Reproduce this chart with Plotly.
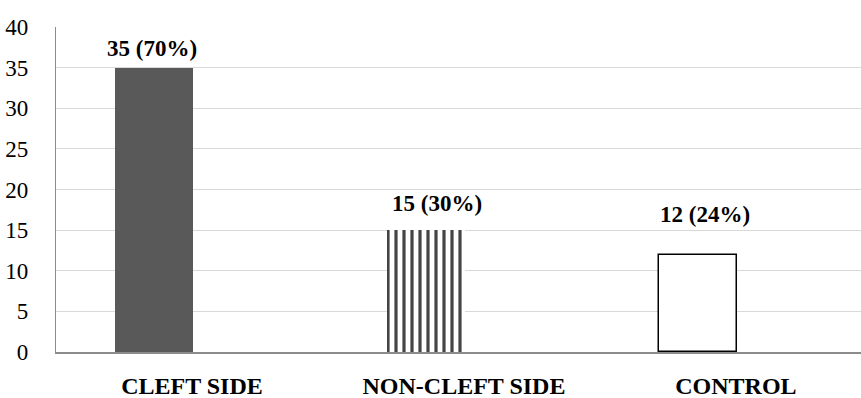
import plotly.graph_objects as go

categories = ["CLEFT SIDE", "NON-CLEFT SIDE", "CONTROL"]
counts = [35, 15, 12]
percents = [70, 30, 24]
y_ticks = [0, 5, 10, 15, 20, 25, 30, 35, 40]

# styling (not data)
fill_colors = ["#595959", "white", "white"]
patterns = ["", "|", ""]
line_widths = [0, 0, 1.5]
label_lift = [2.4, 3.3, 4.9]
label_xshift = [-2, 11, 7]

xs = list(range(len(categories)))
labels = [f"{c} ({p}%)" for c, p in zip(counts, percents)]

fig = go.Figure()
fig.add_trace(go.Bar(
    x=xs, y=counts,
    width=0.287, offset=-0.283,
    marker=dict(
        color=fill_colors,
        line=dict(color="black", width=line_widths),
        pattern=dict(shape=patterns, fgcolor="black", bgcolor="white", fgopacity=1,
                     size=8, solidity=0.4, fillmode="overlay"),
    ),
    showlegend=False,
    hoverinfo="skip",
))

for i, (c, lab) in enumerate(zip(counts, labels)):
    fig.add_annotation(
        x=xs[i] - 0.283 + 0.287 / 2, y=c + label_lift[i], text=f"<b>{lab}</b>",
        showarrow=False, xanchor="center", yanchor="middle", xshift=label_xshift[i],
        font=dict(family="Liberation Serif", size=23, color="black"),
    )

fig.update_layout(
    width=861, height=398,
    margin=dict(l=56, r=0, t=27, b=46, autoexpand=False),
    paper_bgcolor="white", plot_bgcolor="white",
    bargap=0,
    font=dict(family="Liberation Serif", color="black"),
)
fig.update_xaxes(
    range=[-0.5, 2.46], automargin=False,
    tickmode="array", tickvals=xs,
    ticktext=[f"<b>{c}</b>" for c in categories],
    tickfont=dict(family="Liberation Serif", size=24, color="black"),
    showgrid=False, zeroline=False,
    showline=True, linecolor="#8c8c8c", linewidth=1.5,
    ticks="", ticklabelstandoff=11,
)
fig.update_yaxes(
    range=[0, 40], automargin=False,
    tickmode="array", tickvals=y_ticks,
    tickfont=dict(family="Liberation Serif", size=23, color="black"),
    showgrid=True, gridcolor="#d9d9d9", gridwidth=1,
    zeroline=False,
    showline=True, linecolor="#8c8c8c", linewidth=1.2, mirror=True,
    ticks="", ticklabelstandoff=22,
)

fig.write_html("out.html", config={"displayModeBar": False},
               post_script="document.body.style.margin='0';document.body.style.overflow='hidden';")
